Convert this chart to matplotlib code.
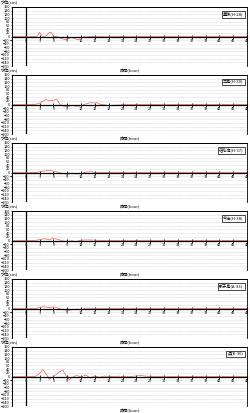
from matplotlib import pyplot as plt
import numpy as np

plt.rcParams['font.family'] = ['Noto Sans CJK JP', 'DejaVu Sans']

stations = ['豊後(H-28)', '三島(H-30)', '宿毛湾(H-37)', '今治(H-38)', '新子島(A-33)', '呉(K-36)']

t1 = [-3, 2, 2.5, 3, 3.5, 4, 4.5, 5, 5.5, 6, 7, 8, 8.5, 9, 10, 11, 12, 12.5, 13, 15, 17, 19, 21, 24, 27, 30, 33, 36, 39, 42, 45, 48]
v1 = [0, 0, 2, 22, 4, -4, 6, 20, 22, 2, -3, -12, -18, -12, -5, -16, -14, 0, -3, 2, -2, 1, -1, 1, 0, 1, 0, 0, 1, 0, 0, 0]

t2 = [-3, 2, 3, 4, 4.5, 5, 6, 6.6, 7, 7.5, 8, 9, 10, 11, 12, 13, 14, 15, 15.5, 16, 17, 18, 19, 20, 22, 24, 27, 30, 33, 36, 39, 42, 45, 48]
v2 = [0, 0, 8, 22, 27, 20, 22, 30, 18, -2, -8, -10, -6, -9, -7, 3, 10, 8, 10, 2, -2, -5, -4, -3, 1, 0, 1, 0, 0, 1, 0, 0, 0, 0]

t3 = [-3, 2, 3, 4, 5, 6, 7, 8, 9, 10, 11, 12, 13, 14, 15, 17, 20, 24, 28, 32, 36, 40, 44, 48]
v3 = [0, 0, 4, 8, 12, 7, 2, -6, -9, -4, -8, -6, 2, 4, 1, 0, 1, 0, 0, 1, 0, 0, 0, 0]

t4 = [-3, 2, 3, 4, 5, 6, 7, 8, 9, 10, 11, 12, 14, 16, 18, 20, 24, 28, 32, 36, 40, 44, 48]
v4 = [0, 0, 5, 10, 4, 12, 6, -3, -4, -2, -5, 2, 3, 1, 0, 1, 0, 0, 1, 0, 0, 0, 0]

t5 = [-3, 2, 3, 4, 5, 6, 7, 8, 9, 10, 11, 12, 13, 15, 17, 20, 24, 28, 32, 36, 40, 44, 48]
v5 = [0, 0, 6, 10, 5, 9, 2, -6, -10, -7, -4, -6, 2, 1, 0, 1, 0, 0, 1, 0, 0, 0, 0]

t6 = [-3, 2, 2.8, 3.7, 4.5, 5.1, 6, 7, 8, 8.7, 9.4, 10, 11, 12, 13, 14, 15, 16, 17, 18, 20, 22, 24, 25, 26, 28, 32, 36, 40, 44, 48]
v6 = [0, 0, 12, 38, 10, -15, 0, 20, 36, 5, -18, -6, 6, -3, 8, -8, 4, -5, 3, -2, 2, -1, 3, 5, 2, 0, 1, 0, 0, 0, 0]

times = [t1, t2, t3, t4, t5, t6]
values = [v1, v2, v3, v4, v5, v6]

xticks = np.arange(-3, 49, 3)
yticks = np.arange(-160, 161, 20)

W, H = 250, 413
fig = plt.figure(figsize=(W / 100, H / 100), dpi=100)

for i in range(6):
    top = 7 + 68 * i
    h = 59
    ax = fig.add_axes([12 / W, 1 - (top + h) / H, 235 / W, h / H])
    ax.set_xlim(-3, 48)
    ax.set_ylim(-160, 160)
    for y in yticks:
        ax.axhline(y, color='#c4c4c4', lw=0.4, ls=(0, (1, 1)), zorder=0)
    ax.axvline(0, color='k', lw=0.9, zorder=2)
    ax.plot(times[i], values[i], color='#e8504a', lw=0.45, zorder=3)

    # excel-like: x axis sits on the zero line
    for s in ax.spines.values():
        s.set_linewidth(0.6)
    ax.spines['bottom'].set_position(('data', 0))
    ax.spines['bottom'].set_zorder(5)
    ax.spines['bottom'].set_linewidth(0.9)
    frame = plt.Rectangle((0, 0), 1, 1, transform=ax.transAxes, facecolor='none',
                          edgecolor='black', lw=0.6, zorder=4)
    ax.add_artist(frame)
    ax.set_xticks(xticks)
    ax.set_yticks(yticks)
    ax.tick_params(axis='x', direction='inout', length=2.2, width=0.6, labelsize=2.8, pad=0.8)
    ax.tick_params(axis='y', direction='out', length=1, width=0.4, labelsize=2.8, pad=0.5)

    fig.text(1 / W, 1 - (top - 5) / H, '水位(cm)', fontsize=3, va='center', ha='left')
    fig.text(130 / W, 1 - (top + h + 4) / H, '時間(hour)', fontsize=3, va='center', ha='center')
    ax.text(0.985, 0.92, stations[i], transform=ax.transAxes, fontsize=3, ha='right', va='top',
            bbox=dict(facecolor='white', edgecolor='black', lw=0.5, pad=0.8))

fig.savefig('out.png', dpi=100)
